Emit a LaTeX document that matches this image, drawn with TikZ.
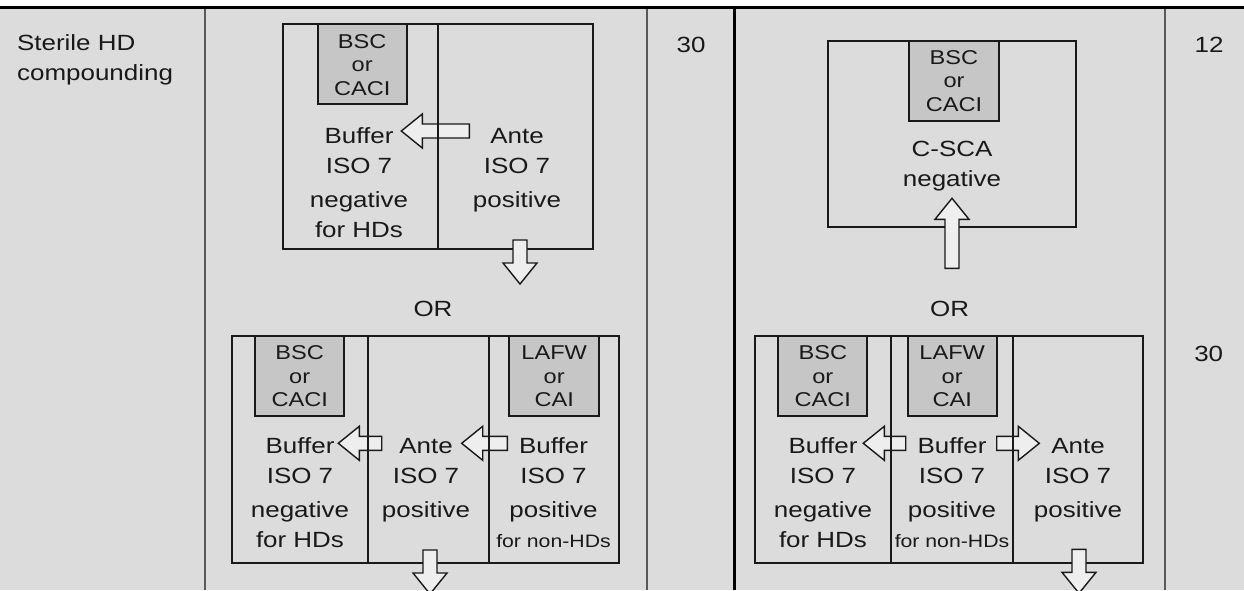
\documentclass[tikz,border=0pt]{standalone}
\usepackage{fontspec}
\setmainfont[FakeStretch=1.18]{Liberation Sans}
\usepackage{tikz}

\definecolor{bggray}{HTML}{DCDCDC}
\definecolor{hoodgray}{HTML}{C6C6C6}
\definecolor{arrowfill}{HTML}{EEEEEE}

% block arrow: tail point, length, direction
\newcommand{\blockarrow}[3]{%
    \draw[fat, shift={(#1)}, rotate=#3]
        (0,-7) -- (#2-21,-7) -- (#2-21,-17) -- (#2,0)
        -- (#2-21,17) -- (#2-21,7) -- (0,7) -- cycle;}

\begin{document}
\begin{tikzpicture}[
        x=0.5pt, y=-0.5pt,
        room/.style={
            draw=black!90,
            line width=1pt
        },
        hood/.style={
            draw=black!90,
            fill=hoodgray,
            line width=1pt
        },
        colrule/.style={
            draw=black!65,
            line width=0.6pt
        },
        txt/.style={
            anchor=base,
            inner sep=0pt,
            align=center,
            text=black!90,
            font=\fontsize{11}{15}\selectfont
        },
        hoodtxt/.style={
            txt,
            font=\fontsize{10}{11.75}\selectfont
        },
        fat/.style={
            draw=black!90,
            fill=arrowfill,
            line width=0.7pt,
            line join=miter
        }
    ]
    \useasboundingbox (0,0) rectangle (1244,590);

    % Table
    \fill[white] (0,0) rectangle (1244,590);
    \fill[bggray] (0,9) rectangle (1244,590);
    \draw[line width=1.4pt] (0,7.6) -- (1244,7.6);
    \draw[colrule] (205,9) -- (205,590);
    \draw[colrule] (647,9) -- (647,590);
    \draw[line width=1.75pt] (734.3,9) -- (734.3,590);
    \draw[colrule] (1165,9) -- (1165,590);

    \node[txt, anchor=base west, align=left] (task) at (16.7,80) {Sterile HD\\compounding};
    \node[txt] (minA) at (691,52.3) {30};
    \node[txt] (minB) at (1209,52.3) {12};
    \node[txt] (minC) at (1208.7,361) {30};

    % Rooms
    \draw[room] (283.3,24.3) rectangle (593.3,249.3);
    \draw[hood] (317.7,24.3) rectangle (406.7,104);
    \draw[room] (232.3,336) rectangle (618.5,562.7);
    \draw[hood] (255,336) rectangle (344.3,415.7);
    \draw[hood] (509.3,336) rectangle (599,415.7);
    \draw[room] (827.7,41) rectangle (1076,227.3);
    \draw[hood] (909,41) rectangle (999,120.7);
    \draw[room] (755,336) rectangle (1143.4,562.7);
    \draw[hood] (778.3,336) rectangle (867.3,415.7);
    \draw[hood] (907.7,336) rectangle (996.7,415.7);

    % Arrows
    \blockarrow{469.3,131}{68}{180}
    \blockarrow{520,240}{44}{-90}
    \blockarrow{381.7,443.3}{43.4}{180}
    \blockarrow{507.3,443.3}{45.6}{180}
    \blockarrow{430,550}{44}{-90}
    \blockarrow{952,268.3}{70}{90}
    \blockarrow{905.7,443.3}{42.4}{180}
    \blockarrow{996.7,443.3}{42.6}{0}
    \blockarrow{1079,549.3}{44}{-90}

    % Walls
    \draw[room] (438.3,24.3) -- (438.3,249.3);
    \draw[room] (367.7,336) -- (367.7,562.7);
    \draw[room] (489.3,336) -- (489.3,562.7);
    \draw[room] (890.7,336) -- (890.7,562.7);
    \draw[room] (1012.7,336) -- (1012.7,562.7);

    % Labels
    \node[hoodtxt] (bscA) at (362.2,95.3) {BSC\\or\\CACI};
    \node[txt] (bufA) at (359,237) {Buffer\\ISO 7\\[2pt]negative\\for HDs};
    \node[txt] (anteA) at (517,207) {Ante\\ISO 7\\[2pt]positive};
    \node[txt] (orL) at (433,316.7) {OR};
    \node[hoodtxt] (bscB) at (299.7,406.5) {BSC\\or\\CACI};
    \node[hoodtxt] (lafwB) at (554.2,406.5) {LAFW\\or\\CAI};
    \node[txt] (bufB) at (300,547) {Buffer\\ISO 7\\[2pt]negative\\for HDs};
    \node[txt] (anteB) at (426,517) {Ante\\ISO 7\\[2pt]positive};
    \node[txt] (cleanB) at (553.5,547) {Buffer\\ISO 7\\[2pt]positive\\{\fontsize{9}{15}\selectfont for non-HDs}};
    \node[hoodtxt] (bscD) at (954,111) {BSC\\or\\CACI};
    \node[txt] (csca) at (952,186) {C-SCA\\negative};
    \node[txt] (orR) at (949.7,316.7) {OR};
    \node[hoodtxt] (bscE) at (822.8,406.5) {BSC\\or\\CACI};
    \node[hoodtxt] (lafwE) at (952.2,406.5) {LAFW\\or\\CAI};
    \node[txt] (bufE) at (823,547) {Buffer\\ISO 7\\[2pt]negative\\for HDs};
    \node[txt] (cleanE) at (952,547) {Buffer\\ISO 7\\[2pt]positive\\{\fontsize{9}{15}\selectfont for non-HDs}};
    \node[txt] (anteE) at (1078,517) {Ante\\ISO 7\\[2pt]positive};

\end{tikzpicture}
\end{document}
